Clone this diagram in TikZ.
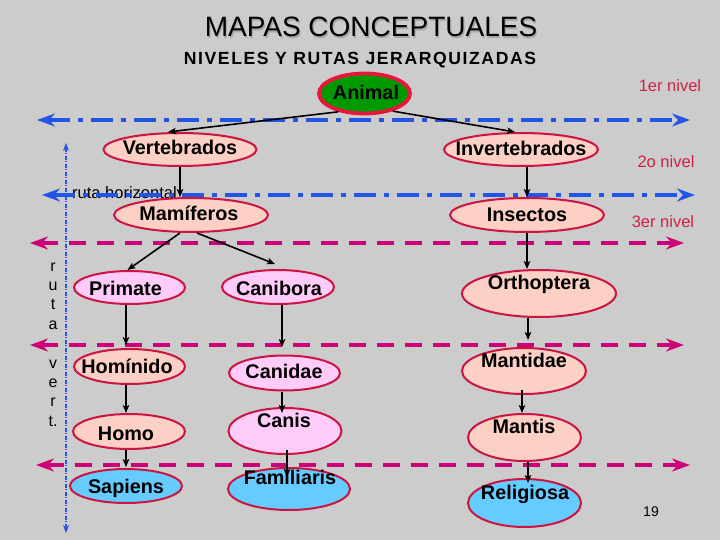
\documentclass[tikz,border=0pt]{standalone}
\usepackage{fontspec}
\setmainfont{Liberation Sans}
\newfontfamily\subfont[LetterSpace=9]{Liberation Sans}
\usetikzlibrary{shapes.geometric,arrows.meta}
\definecolor{bg}{RGB}{204,204,204}
\definecolor{bord}{RGB}{204,20,66}
\definecolor{salmonf}{RGB}{252,208,196}
\definecolor{pinkf}{RGB}{255,204,250}
\definecolor{bluef}{RGB}{102,204,255}
\definecolor{animalf}{RGB}{0,153,0}
\definecolor{animalb}{RGB}{235,20,60}
\definecolor{bluel}{RGB}{34,85,230}
\definecolor{magl}{RGB}{204,0,119}
\definecolor{lvl}{RGB}{204,34,68}
\tikzset{
  ov/.style={ellipse, draw=bord, line width=2pt, inner sep=0pt},
  sal/.style={ov, fill=salmonf},
  pnk/.style={ov, fill=pinkf},
  blu/.style={ov, fill=bluef},
  lbl/.style={anchor=base, inner sep=0pt, font=\fontsize{19.8}{22}\selectfont\bfseries},
  conn/.style={-{Stealth[length=8pt,width=6.5pt,inset=2pt]}, line width=1.6pt, black},
  blueline/.style={draw=bluel, line width=4.5pt, dash pattern=on 22pt off 8pt on 5pt off 8pt,
     {Stealth[length=18pt,width=13pt,inset=6pt]}-{Stealth[length=18pt,width=13pt,inset=6pt]}},
  magline/.style={draw=magl, line width=4.5pt, dash pattern=on 17pt off 11pt,
     {Stealth[length=18pt,width=13pt,inset=6pt]}-{Stealth[length=18pt,width=13pt,inset=6pt]}},
  lvltxt/.style={anchor=base, inner sep=0pt, text=lvl, font=\fontsize{16.5}{18}\selectfont},
  vtxt/.style={anchor=base, inner sep=0pt, font=\fontsize{16}{18}\selectfont},
}
\begin{document}
\begin{tikzpicture}[x=1pt,y=-1pt]
\fill[bg] (0,0) rectangle (720,540);
\useasboundingbox (0,0) rectangle (720,540);

% titles
\node[anchor=base, inner sep=0pt, text=black!35, font=\fontsize{28}{30}\selectfont] (titlesh) at (372.2,38.2) {MAPAS CONCEPTUALES};
\node[anchor=base, inner sep=0pt, font=\fontsize{28}{30}\selectfont] (title) at (371,37) {MAPAS CONCEPTUALES};
\node[anchor=base, inner sep=0pt, font=\fontsize{17.6}{19}\subfont\bfseries] (subtitle) at (360,65) {NIVELES Y RUTAS JERARQUIZADAS};

% level labels
\node[lvltxt] (l1) at (670,92) {1er nivel};
\node[lvltxt] (l2) at (666,168) {2o nivel};
\node[lvltxt] (l3) at (663,228) {3er nivel};

% page number
\node[anchor=base, inner sep=0pt, font=\fontsize{14}{16}\selectfont] (pg) at (651,516) {19};

% ruta horizontal
\node[anchor=base west, inner sep=0pt, font=\fontsize{16.5}{18}\selectfont] (rh) at (72,199) {ruta horizontal};

% vertical letters
\foreach \t/\yy [count=\i] in {r/271,u/290.4,t/309.8,a/329.2,v/368,e/387.4,r/406.8,t./426.2}
  \node[vtxt, name=vl\i] at (53,\yy) {\t};

% nodes
\node[ellipse, draw=animalb, line width=3.8pt, fill=animalf, inner sep=0pt,
      minimum width=91pt, minimum height=40pt] (animal) at (364.5,93.5) {};
\node[lbl] (animalt) at (366,100) {Animal};

\node[sal, minimum width=153pt, minimum height=33pt] (vert) at (180,149.5) {};
\node[lbl] (vertt) at (180,155) {Vertebrados};
\node[sal, minimum width=154pt, minimum height=33pt] (invert) at (521,149.5) {};
\node[lbl] (invertt) at (521,156) {Invertebrados};

\node[sal, minimum width=154pt, minimum height=34pt] (mam) at (191,215) {};
\node[lbl] (mamt) at (189,221) {Mamíferos};
\node[sal, minimum width=154pt, minimum height=34pt] (insect) at (527,215) {};
\node[lbl] (insectt) at (527,222) {Insectos};

\node[pnk, minimum width=111pt, minimum height=33pt] (prim) at (129.5,287.5) {};
\node[lbl] (primt) at (125.5,295) {Primate};
\node[pnk, minimum width=112pt, minimum height=34pt] (canib) at (278,287) {};
\node[lbl] (canibt) at (279,295) {Canibora};
\node[sal, minimum width=154pt, minimum height=47pt] (orth) at (539,293.5) {};
\node[lbl] (ortht) at (539,289) {Orthoptera};

\node[sal, minimum width=111pt, minimum height=35pt] (homi) at (129.5,366.5) {};
\node[lbl] (homit) at (127,373) {Homínido};
\node[pnk, minimum width=111pt, minimum height=35pt] (canid) at (284.5,373) {};
\node[lbl] (canidt) at (284,378) {Canidae};
\node[sal, minimum width=124pt, minimum height=46pt] (mantid) at (524,371) {};
\node[lbl] (mantidt) at (524,367) {Mantidae};

\node[sal, minimum width=112pt, minimum height=35pt] (homo) at (129,431.5) {};
\node[lbl] (homot) at (126,440) {Homo};
\node[pnk, minimum width=113pt, minimum height=46pt] (canis) at (285,431) {};
\node[lbl] (canist) at (284,427) {Canis};
\node[sal, minimum width=113pt, minimum height=47pt] (mantis) at (524.5,437.5) {};
\node[lbl] (mantist) at (524,433) {Mantis};

\node[blu, minimum width=112pt, minimum height=34pt] (sapi) at (126,486) {};
\node[lbl] (sapit) at (126,493) {Sapiens};
\node[blu, minimum width=122pt, minimum height=42pt] (famil) at (289,489) {};
\node[lbl] (familt) at (290,484) {Familiaris};
\node[blu, minimum width=113pt, minimum height=48pt] (relig) at (524.5,503) {};
\node[lbl] (religt) at (525,499) {Religiosa};

% horizontal routes
\coordinate (b1l) at (37,120);  \coordinate (b1r) at (690,120);
\coordinate (b2l) at (42,195);  \coordinate (b2r) at (695,195);
\coordinate (m1l) at (30,243);  \coordinate (m1r) at (684,243);
\coordinate (m2l) at (30,345);  \coordinate (m2r) at (684,345);
\coordinate (m3l) at (36,465);  \coordinate (m3r) at (690,465);
\draw[blueline] (b1l) -- (b1r);
\draw[blueline] (b2l) -- (b2r);
\draw[magline] (m1l) -- (m1r);
\draw[magline] (m2l) -- (m2r);
\draw[magline] (m3l) -- (m3r);

% vertical route
\coordinate (vt) at (66,143); \coordinate (vb) at (66,533);
\draw[draw=bluel, line width=1.3pt, dash pattern=on 4pt off 1.5pt on 1pt off 1.5pt,
      {Stealth[length=8pt,width=6pt]}-{Stealth[length=8pt,width=6pt]}] (vt) -- (vb);

% connectors
\draw[conn] (animal.215) -- ([xshift=-12pt]vert.north);
\draw[conn] (animal.328) -- ([xshift=-6pt]invert.north);
\draw[conn] (vert.south) -- (vert.south |- mam.north);
\draw[conn] (invert.south -| insect.north) -- (insect.north);
\draw[conn] ([xshift=-11pt]mam.south) -- ([xshift=-2pt]prim.north);
\draw[conn] ([xshift=6pt]mam.south) -- ([shift={(-3pt,5pt)}]canib.north);
\draw[conn] (insect.south) -- (insect.south |- orth.north);
\draw[conn] ([xshift=-3.5pt]prim.south) -- ([shift={(-3.5pt,3pt)}]homi.north);
\draw[conn] ([xshift=4pt]canib.south) -- ([shift={(-2.5pt,7.5pt)}]canid.north);
\draw[conn] ([xshift=-11pt]orth.south) -- ([shift={(4pt,7pt)}]mantid.north);
\draw[conn] ([xshift=-3.5pt]homi.south) -- ([xshift=-3pt]homo.north);
\draw[conn] ([xshift=-2.5pt]canid.south) -- ([shift={(-3pt,-6pt)}]canis.north);
\draw[conn] ([shift={(-2pt,5pt)}]mantid.south) -- ([xshift=-2.5pt]mantis.north);
\draw[conn] ([xshift=-3pt]homo.south) -- ([yshift=1pt]sapi.north);
\draw[conn] ([shift={(2pt,5pt)}]canis.south) -- ([shift={(-2pt,-10pt)}]famil.north);
\draw[conn] ([xshift=3.5pt]mantis.south) -- ([shift={(3.5pt,-5pt)}]relig.north);
\end{tikzpicture}
\end{document}
